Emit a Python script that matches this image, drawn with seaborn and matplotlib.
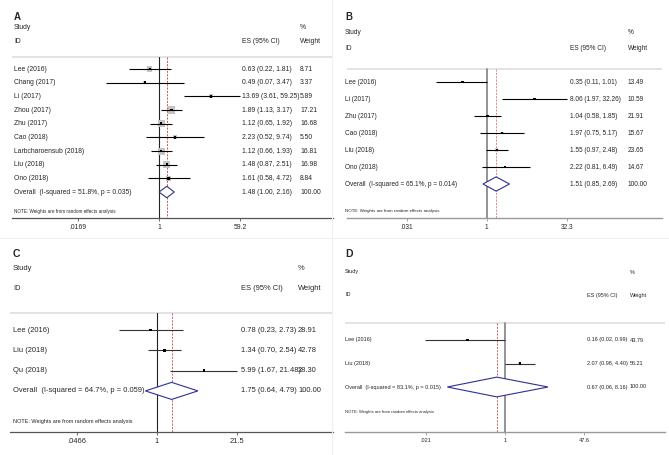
import numpy as np
import pandas as pd
import matplotlib
matplotlib.use("Agg")
import matplotlib.pyplot as plt
from matplotlib.ticker import NullLocator
from matplotlib.lines import Line2D
import seaborn as sns

sns.set_style("white")
plt.rcParams['font.family'] = ['Liberation Sans', 'DejaVu Sans']

# ---------------- data ----------------
a_studies = ["Lee (2016)", "Chang (2017)", "Li (2017)", "Zhou (2017)", "Zhu (2017)",
             "Cao (2018)", "Larbcharoensub (2018)", "Liu (2018)", "Ono (2018)"]
a_es = [0.63, 0.49, 13.69, 1.89, 1.12, 2.23, 1.12, 1.48, 1.61]
a_lo = [0.22, 0.07, 3.61, 1.13, 0.65, 0.52, 0.66, 0.87, 0.58]
a_hi = [1.81, 3.47, 59.25, 3.17, 1.92, 9.74, 1.93, 2.51, 4.72]
a_w = [8.71, 3.37, 5.89, 17.21, 16.68, 5.50, 16.81, 16.98, 8.84]
a_overall = [1.48, 1.00, 2.16]
a_overall_label = "Overall  (I-squared = 51.8%, p = 0.035)"
a_ticks = [1 / 59.2, 1, 59.2]
a_ticklabels = [".0169", "1", "59.2"]

b_studies = ["Lee (2016)", "Li (2017)", "Zhu (2017)", "Cao (2018)", "Liu (2018)", "Ono (2018)"]
b_es = [0.35, 8.06, 1.04, 1.97, 1.55, 2.22]
b_lo = [0.11, 1.97, 0.58, 0.75, 0.97, 0.81]
b_hi = [1.01, 32.26, 1.85, 5.17, 2.48, 6.49]
b_w = [13.49, 10.59, 21.91, 15.67, 23.65, 14.67]
b_overall = [1.51, 0.85, 2.69]
b_overall_label = "Overall  (I-squared = 65.1%, p = 0.014)"
b_ticks = [1 / 32.3, 1, 32.3]
b_ticklabels = [".031", "1", "32.3"]

c_studies = ["Lee (2016)", "Liu (2018)", "Qu (2018)"]
c_es = [0.78, 1.34, 5.99]
c_lo = [0.23, 0.70, 1.67]
c_hi = [2.73, 2.54, 21.48]
c_w = [28.91, 42.78, 28.30]
c_overall = [1.75, 0.64, 4.79]
c_overall_label = "Overall  (I-squared = 64.7%, p = 0.059)"
c_ticks = [1 / 21.5, 1, 21.5]
c_ticklabels = [".0466", "1", "21.5"]

d_studies = ["Lee (2016)", "Liu (2018)"]
d_es = [0.16, 2.07]
d_lo = [0.02, 0.98]
d_hi = [0.99, 4.40]
d_w = [43.79, 56.21]
d_overall = [0.67, 0.06, 8.16]
d_overall_label = "Overall  (I-squared = 83.1%, p = 0.015)"
d_ticks = [1 / 47.6, 1, 47.6]
d_ticklabels = [".021", "1", "47.6"]

W, H = 669, 455
fig = plt.figure(figsize=(W / 100, H / 100), dpi=100)
fig.patch.set_facecolor("white")


def panel(letter, studies, es, lo, hi, wt, overall, overall_label, ticks, ticklabels, L):
    x1, s = L["x1"], L["s"]

    def px(p):
        return np.exp((p - x1) / s)

    def yr(p):
        return (p - L["row0"]) / L["sp"]

    ax = fig.add_axes([L["xl"] / W, 1 - L["axis"] / H,
                       (L["xr"] - L["xl"]) / W, (L["axis"] - L["top"]) / H])
    ax.set_facecolor("none")
    ax.set_xscale("log")
    ax.set_xlim(px(L["xl"]), px(L["xr"]))
    ax.set_ylim(yr(L["axis"]), yr(L["top"]))
    n = len(studies)
    df = pd.DataFrame({"study": studies, "es": es, "lo": lo, "hi": hi,
                       "w": wt, "row": np.arange(n)})

    # separator and reference lines
    ax.plot([px(L["xl"]), px(L["xr"])], [yr(L["sep"])] * 2, color="#e3e3e3",
            lw=1.4, clip_on=False, solid_capstyle="butt")
    ax.plot([1, 1], [yr(L["sep"]), yr(L["axis"])], color=L["vcol"], lw=L["vlw"],
            clip_on=False)
    ax.plot([overall[0]] * 2, [yr(L["sep"]), yr(L["axis"])], color=L["rcol"],
            lw=0.6, ls=(0, (2.5, 1.5)), clip_on=False)

    # squares (weights) and CIs
    sns.scatterplot(data=df, x="es", y="row", size="w", sizes=(0, L["sq"] * 100),
                    size_norm=(0, 100), marker="s", color=L["sqcol"],
                    edgecolor="none", legend=False, ax=ax, zorder=2)
    ax.hlines(df["row"], df["lo"], df["hi"], color=L["cicol"], lw=0.8, zorder=3)
    sns.scatterplot(data=df, x="es", y="row", color="black", s=3, marker="s",
                    edgecolor="none", legend=False, ax=ax, zorder=4)

    # overall diamond
    hgt = 0.42
    ax.fill([overall[1], overall[0], overall[2], overall[0], overall[1]],
            [n, n - hgt, n, n + hgt, n], facecolor="white", edgecolor="#2e3192",
            lw=0.8, zorder=5)

    fs = L["fs"]
    for i, name in enumerate(studies):
        ax.text(px(L["tx"]), i, name, fontsize=fs, va="center", ha="left")
        ax.text(px(L["ex"]), i, f"{es[i]:.2f} ({lo[i]:.2f}, {hi[i]:.2f})",
                fontsize=fs, va="center", ha="left")
        ax.text(px(L["wx"]), i, f"{wt[i]:.2f}", fontsize=fs, va="center", ha="left")
    ax.text(px(L["tx"]), n, overall_label, fontsize=fs, va="center", ha="left")
    ax.text(px(L["ex"]), n, f"{overall[0]:.2f} ({overall[1]:.2f}, {overall[2]:.2f})",
            fontsize=fs, va="center", ha="left")
    ax.text(px(L["wx"]), n, "100.00", fontsize=fs, va="center", ha="left")

    # headers
    ax.text(px(L["tx"]), yr(L["letter_y"]), letter, fontsize=L["lfs"],
            fontweight="bold", va="center", ha="left")
    ax.text(px(L["tx"]), yr(L["h1"]), "Study", fontsize=fs, va="center", ha="left")
    ax.text(px(L["wx"]), yr(L["h1"]), "%", fontsize=fs, va="center", ha="left")
    ax.text(px(L["tx"]), yr(L["h2"]), "ID", fontsize=fs, va="center", ha="left")
    ax.text(px(L["ex"]), yr(L["h2"]), "ES (95% CI)", fontsize=fs, va="center", ha="left")
    ax.text(px(L["wx"]), yr(L["h2"]), "Weight", fontsize=fs, va="center", ha="left")
    ax.text(px(L["tx"]), yr(L["note"]), "NOTE: Weights are from random effects analysis",
            fontsize=L["nfs"], va="center", ha="left")

    # axis
    for sp in ["left", "top", "right"]:
        ax.spines[sp].set_visible(False)
    ax.spines["bottom"].set_color(L["axcol"])
    ax.spines["bottom"].set_linewidth(L["axlw"])
    ax.set_yticks([])
    ax.set_xticks(ticks)
    ax.set_xticklabels(ticklabels)
    ax.xaxis.set_minor_locator(NullLocator())
    ax.tick_params(axis="x", length=2.5, width=0.6, color=L["axcol"], pad=1.5,
                   labelsize=fs, bottom=True)
    ax.set_xlabel("")
    ax.set_ylabel("")


LA = dict(xl=12, xr=333, x1=159, s=19.85, axis=218, top=2, row0=69, sp=13.67,
          sep=57, tx=14, ex=242, wx=300, letter_y=17, h1=27, h2=41, note=211,
          fs=4.9, nfs=3.3, lfs=7, vcol="#222222", vlw=0.8, axcol="#555555", axlw=0.9,
          sq=1.5, sqcol="#c4c4c4", cicol="black", rcol="#b5473f")
LB = dict(xl=347, xr=662, x1=486.7, s=23.0, axis=218, top=2, row0=82, sp=17.0,
          sep=69, tx=345, ex=570, wx=628, letter_y=17, h1=32, h2=48, note=211,
          fs=4.7, nfs=3.2, lfs=7, vcol="#8a8a8a", vlw=1.3, axcol="#999999", axlw=1.0,
          sq=0.2, sqcol="#cfcfcf", cicol="black", rcol="#d07878")
LC = dict(xl=10, xr=333, x1=157, s=26.1, axis=432, top=240, row0=330, sp=20.3,
          sep=313, tx=13, ex=241, wx=298, letter_y=254, h1=269, h2=289, note=422,
          fs=5.4, nfs=4.0, lfs=7.5, vcol="#222222", vlw=0.8, axcol="#555555", axlw=0.9,
          sq=0.1, sqcol="#d5d5d5", cicol="#333333", rcol="#c0504d")
LD = dict(xl=345, xr=665, x1=505, s=20.5, axis=432, top=240, row0=340, sp=23.5,
          sep=323, tx=345, ex=587, wx=630, letter_y=254, h1=272, h2=295, note=412,
          fs=4.0, nfs=3.0, lfs=7.5, vcol="#8a8a8a", vlw=1.3, axcol="#999999", axlw=1.0,
          sq=0.08, sqcol="#d5d5d5", cicol="#333333", rcol="#c0504d")

panel("A", a_studies, a_es, a_lo, a_hi, a_w, a_overall, a_overall_label, a_ticks, a_ticklabels, LA)
panel("B", b_studies, b_es, b_lo, b_hi, b_w, b_overall, b_overall_label, b_ticks, b_ticklabels, LB)
panel("C", c_studies, c_es, c_lo, c_hi, c_w, c_overall, c_overall_label, c_ticks, c_ticklabels, LC)
panel("D", d_studies, d_es, d_lo, d_hi, d_w, d_overall, d_overall_label, d_ticks, d_ticklabels, LD)

# faint panel dividers
fig.add_artist(Line2D([332 / W, 332 / W], [0, 1], color="#f0f0f0", lw=0.8))
fig.add_artist(Line2D([0, 1], [1 - 238 / H, 1 - 238 / H], color="#f0f0f0", lw=0.8))

fig.savefig("out.png", dpi=100, facecolor="white")
